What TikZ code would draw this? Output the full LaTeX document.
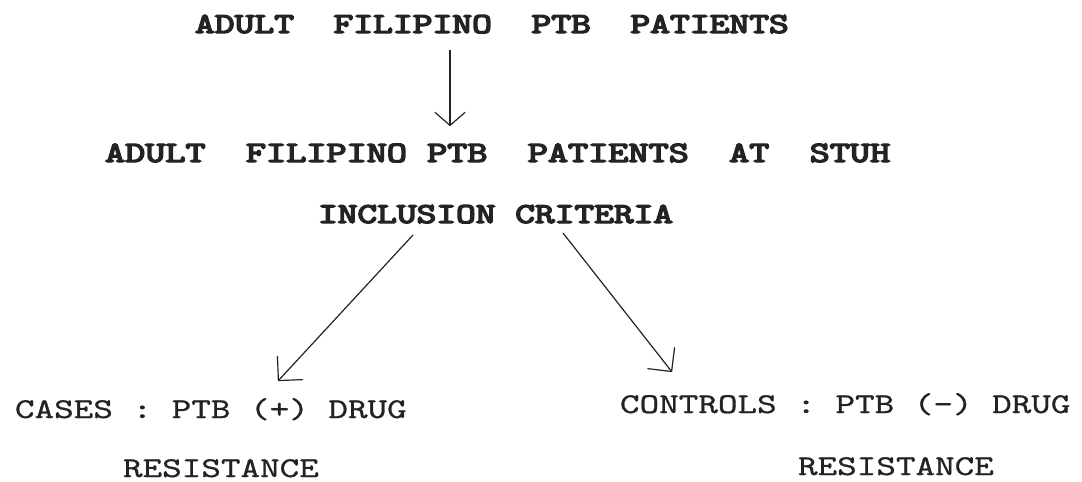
\documentclass[tikz,border=0pt]{standalone}
\usepackage{fontspec}
\usepackage{graphicx}
\usetikzlibrary{arrows.meta}
\newfontfamily\courbold[Extension=.otf,FakeBold=4.5]{lmmono10-regular}
\newfontfamily\courreg[Extension=.otf,FakeBold=0.8]{lmmono10-regular}
\definecolor{ink}{RGB}{35,35,35}
\newcommand{\mybold}[2]{\scalebox{1.3}[1]{\fontsize{#1}{#1}\courbold #2}}
\newcommand{\myreg}[2]{\scalebox{1.3}[1]{\fontsize{#1}{#1}\courreg #2}}
\begin{document}
\begin{tikzpicture}[x=1pt,y=-1pt,
  txt/.style={inner sep=0pt,outer sep=0pt,anchor=base west,text=ink},
  conn/.style={draw=ink,line width=1.2pt,line join=round,-{Straight Barb[length=13pt,width=30pt,round]}},
  diagconn/.style={draw=ink,line width=1.2pt,line join=round,-{Straight Barb[length=17pt,width=34pt,round]}}]
\useasboundingbox (0,0) rectangle (1082,482);
\node[txt] (l1) at (195,33) {\mybold{29}{ADULT~~FILIPINO~~PTB~~PATIENTS}};
\node[txt] (l2) at (105,162) {\mybold{29.5}{ADULT~~FILIPINO PTB~~PATIENTS~~AT~~STUH}};
\node[txt] (l3) at (318,223) {\mybold{28.9}{INCLUSION CRITERIA}};
\node[txt] (c1) at (15,418) {\myreg{28.7}{CASES : PTB (+) DRUG}};
\node[txt] (c2) at (123,477) {\myreg{28.7}{RESISTANCE}};
\node[txt] (k1) at (620,413) {\myreg{28.7}{CONTROLS : PTB (-) DRUG}};
\node[txt] (k2) at (798,475) {\myreg{28.7}{RESISTANCE}};
\coordinate (a1s) at (450,50);
\coordinate (a1e) at (450,126);
\coordinate (a2s) at (413,235);
\coordinate (a2e) at (278,381);
\coordinate (a3s) at (563,233);
\coordinate (a3e) at (672,372);
\draw[conn] (a1s) -- (a1e);
\draw[diagconn] (a2s) -- (a2e);
\draw[diagconn] (a3s) -- (a3e);
\end{tikzpicture}
\end{document}
